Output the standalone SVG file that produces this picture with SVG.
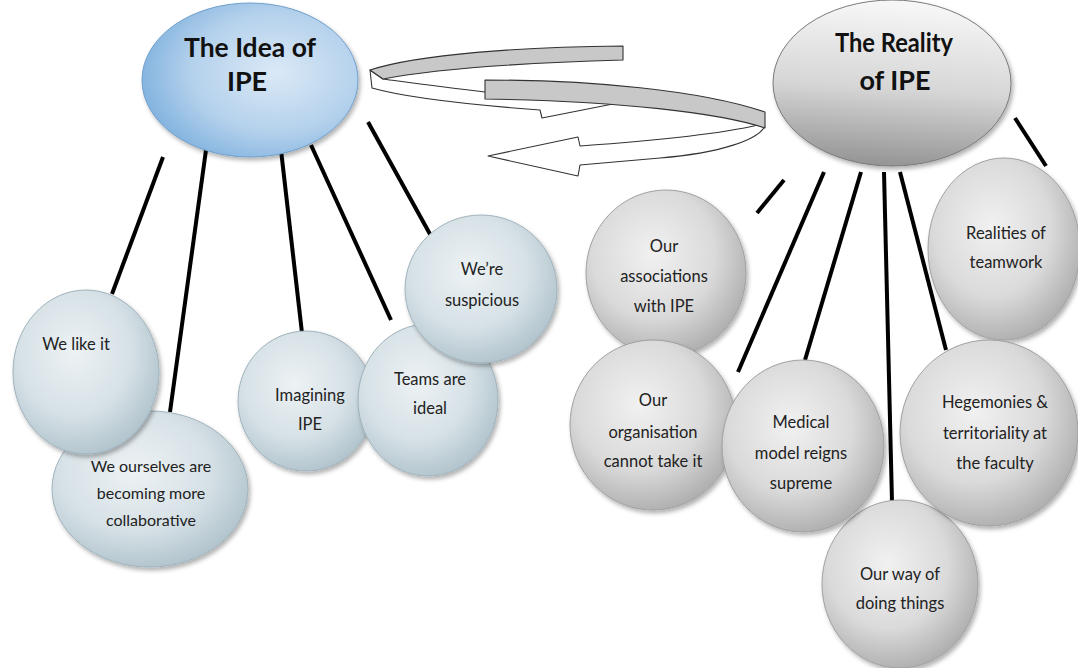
<svg xmlns="http://www.w3.org/2000/svg" width="1078" height="668" viewBox="0 0 1078 668">
<defs>
<radialGradient id="gBlue" cx="0.42" cy="0.38" r="0.7">
<stop offset="0" stop-color="#edf2f4"/>
<stop offset="0.55" stop-color="#d6e1e6"/>
<stop offset="1" stop-color="#a9bdc7"/>
</radialGradient>
<radialGradient id="gGray" cx="0.42" cy="0.38" r="0.7">
<stop offset="0" stop-color="#f1f1f1"/>
<stop offset="0.55" stop-color="#dadada"/>
<stop offset="1" stop-color="#a5a5a5"/>
</radialGradient>
<radialGradient id="gIdea" cx="0.62" cy="0.45" r="0.65">
<stop offset="0" stop-color="#dbe9f6"/>
<stop offset="0.6" stop-color="#b4d1ec"/>
<stop offset="1" stop-color="#7fb1de"/>
</radialGradient>
<linearGradient id="gReal" x1="0.2" y1="0" x2="0.1" y2="1">
<stop offset="0" stop-color="#f6f6f6"/>
<stop offset="0.5" stop-color="#d6d6d6"/>
<stop offset="1" stop-color="#8f8f8f"/>
</linearGradient>
<filter id="sh" x="-20%" y="-20%" width="140%" height="140%">
<feDropShadow dx="2" dy="3" stdDeviation="2" flood-color="#000" flood-opacity="0.3"/>
</filter>
</defs>
<style>
.bn{fill:url(#gBlue);stroke:#9fb2bc;stroke-width:1;filter:url(#sh)}
.gn{fill:url(#gGray);stroke:#a0a0a0;stroke-width:1;filter:url(#sh)}
.t{font-family:Lato,"Open Sans","Liberation Sans",sans-serif;font-size:16.5px;fill:#222;text-anchor:middle}
.tt{font-family:Lato,"Open Sans","Liberation Sans",sans-serif;font-size:27px;font-weight:bold;fill:#111;text-anchor:middle}
.ln{stroke:#000;stroke-width:4;fill:none}
.rb{stroke:#333;stroke-width:1.1;stroke-linejoin:round}
</style>
<rect width="1078" height="668" fill="#fff"/>

<g id="connectors">
<line class="ln" x1="163" y1="157" x2="112" y2="294"/>
<line class="ln" x1="206" y1="150" x2="170" y2="412"/>
<line class="ln" x1="281" y1="150" x2="302" y2="333"/>
<line class="ln" x1="311" y1="145" x2="391" y2="320"/>
<line class="ln" x1="368" y1="122" x2="436" y2="245"/>
<line class="ln" x1="784" y1="180" x2="757" y2="213"/>
<line class="ln" x1="824" y1="172" x2="738" y2="372"/>
<line class="ln" x1="861" y1="172" x2="805" y2="360"/>
<line class="ln" x1="884" y1="172" x2="892" y2="502"/>
<line class="ln" x1="900" y1="172" x2="946" y2="350"/>
<line class="ln" x1="1015" y1="118" x2="1046" y2="166"/>
</g>

<g id="cycle-arrow">
<path class="rb" fill="#fff" d="M370,70 L372,88 C400,96 460,104 540,110 L542,118 L628,101 L545,84 L485,92 C440,87 405,82 383,79 Z"/>
<path class="rb" fill="#c8c8c8" d="M623,46 C520,47 420,54 370,70 L383,79 C430,70 520,63 623,60 Z"/>
<path class="rb" fill="#fff" d="M765,126 C758,140 720,153 660,158 L580,165 L578,176 L488,156 L578,137 L580,146 C650,141 720,134 758,125 Z"/>
<path class="rb" fill="#c8c8c8" d="M485,80 C590,80 700,90 765,112 L765,128 C720,113 620,101 485,99 Z"/>
</g>

<g id="idea">
<ellipse cx="250" cy="80" rx="108" ry="77" fill="url(#gIdea)" stroke="#6f9fcc" stroke-width="1" filter="url(#sh)"/>
<text class="tt" x="250" y="57" textLength="132" lengthAdjust="spacingAndGlyphs">The Idea of</text>
<text class="tt" x="247" y="91">IPE</text>
</g>

<g id="reality">
<ellipse cx="892" cy="83" rx="119" ry="83" fill="url(#gReal)" stroke="#7a7a7a" stroke-width="1" filter="url(#sh)"/>
<text class="tt" x="894" y="52" textLength="118" lengthAdjust="spacingAndGlyphs">The Reality</text>
<text class="tt" x="895" y="90">of IPE</text>
</g>

<g id="we-ourselves">
<ellipse class="bn" cx="150" cy="489" rx="98" ry="78"/>
<text class="t" style="font-size:16px" x="151" y="472">We ourselves are</text>
<text class="t" style="font-size:16px" x="151" y="499">becoming more</text>
<text class="t" style="font-size:16px" x="151" y="526">collaborative</text>
</g>

<g id="we-like-it">
<ellipse class="bn" cx="86" cy="372" rx="73" ry="82"/>
<text class="t" x="76" y="350">We like it</text>
</g>

<g id="imagining">
<ellipse class="bn" cx="306" cy="401" rx="68" ry="70"/>
<text class="t" x="310" y="401">Imagining</text>
<text class="t" x="310" y="430">IPE</text>
</g>

<g id="teams">
<ellipse class="bn" cx="428" cy="400" rx="70" ry="76"/>
<text class="t" x="430" y="385">Teams are</text>
<text class="t" x="430" y="414">ideal</text>
</g>

<g id="suspicious">
<ellipse class="bn" cx="481" cy="289" rx="76" ry="74"/>
<text class="t" x="482" y="275">We’re</text>
<text class="t" x="482" y="306">suspicious</text>
</g>

<g id="associations">
<ellipse class="gn" cx="666" cy="273" rx="80" ry="83"/>
<text class="t" x="664" y="252">Our</text>
<text class="t" x="664" y="282">associations</text>
<text class="t" x="664" y="312">with IPE</text>
</g>

<g id="our-way">
<ellipse class="gn" cx="900" cy="584" rx="78" ry="84"/>
<text class="t" x="900" y="580">Our way of</text>
<text class="t" x="900" y="609">doing things</text>
</g>

<g id="organisation">
<ellipse class="gn" cx="653" cy="425" rx="83" ry="85"/>
<text class="t" x="653" y="406">Our</text>
<text class="t" x="653" y="438">organisation</text>
<text class="t" x="653" y="467">cannot take it</text>
</g>

<g id="medical">
<ellipse class="gn" cx="803" cy="446" rx="81" ry="86"/>
<text class="t" x="801" y="428">Medical</text>
<text class="t" x="801" y="459">model reigns</text>
<text class="t" x="801" y="489">supreme</text>
</g>

<g id="realities">
<ellipse class="gn" cx="1004" cy="249" rx="76" ry="91"/>
<text class="t" x="1006" y="239">Realities of</text>
<text class="t" x="1006" y="268">teamwork</text>
</g>

<g id="hegemonies">
<ellipse class="gn" cx="989" cy="433" rx="89" ry="93"/>
<text class="t" x="995" y="408">Hegemonies &amp;</text>
<text class="t" x="995" y="439">territoriality at</text>
<text class="t" x="995" y="469">the faculty</text>
</g>
</svg>
